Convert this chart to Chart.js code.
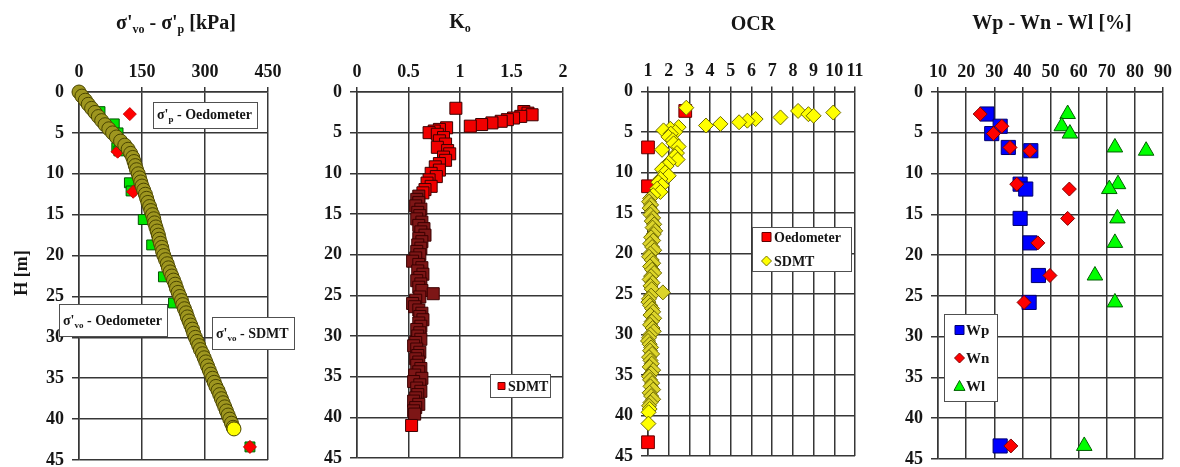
<!DOCTYPE html>
<html>
<head>
<meta charset="utf-8">
<style>
    html, body { margin: 0; padding: 0; background: #fff; overflow: hidden; }
    canvas { position: absolute; top: 0; }
</style>
</head>
<body>
    <canvas id="p1" width="300" height="480" style="left:0px"></canvas>
    <canvas id="p2" width="290" height="480" style="left:295px"></canvas>
    <canvas id="p3" width="290" height="480" style="left:585px"></canvas>
    <canvas id="p4" width="305" height="480" style="left:875px"></canvas>

    <script src="https://cdn.jsdelivr.net/npm/chart.js"></script>
    <script>
        // ---- data ----
        const depthTicks = [0, 5, 10, 15, 20, 25, 30, 35, 40, 45];
        const sigmaTicks = [0, 150, 300, 450];
        const koTicks = [0, 0.5, 1, 1.5, 2];
        const ocrTicks = [1, 2, 3, 4, 5, 6, 7, 8, 9, 10, 11];
        const wTicks = [10, 20, 30, 40, 50, 60, 70, 80, 90];

        // panel 1 : sigma'vo from SDMT
        const sdmtSigmaDepth = [0,0.5,1,1.5,2,2.5,3,3.5,4,4.5,5,5.5,6,6.5,7,7.5,8,8.5,9,9.5,10,10.5,11,11.5,12,12.5,13,13.5,14,14.5,15,
            15.5,16,16.5,17,17.5,18,18.5,19,19.5,20,20.5,21,21.5,22,22.5,23,23.5,24,24.5,25,25.5,26,26.5,27,27.5,28,28.5,29,29.5,30,
            30.5,31,31.5,32,32.5,33,33.5,34,34.5,35,35.5,36,36.5,37,37.5,38,38.5,39,39.5,40,40.5,41,41.2];
        const sdmtSigma = [0,7,15,22,30,38,46,54,62,71,80,89,99,109,117,123,128,131,134,137,141,144,147,150,154,158,161,164,168,171,175,
            178,180,183,186,189,191,194,197,199,202,206,210,213,217,221,225,229,232,236,240,244,247,251,255,258,262,266,270,273,277,
            281,285,289,294,298,302,306,310,314,318,322,326,331,335,339,343,347,351,355,359,363,367,369];
        // panel 1 : oedometer
        const oedSigmaVoDepth = [2.4, 3.9, 5.0, 6.8, 7.2, 11.1, 12.1, 15.6, 18.7, 22.6, 25.8, 43.4];
        const oedSigmaVo = [50, 84, 93, 90, 95, 120, 124, 153, 173, 201, 225, 407];
        const oedSigmaPDepth = [2.7, 7.3, 12.2, 43.4];
        const oedSigmaP = [121, 92, 129, 407];

        // panels 2 and 3 : SDMT depths (shared)
        const dmtDepth = [2.0,2.4,2.6,2.8,3.0,3.2,3.4,3.6,3.8,4.0,4.2,4.4,4.6,4.8,5.0,
            5.2,5.6,6.0,6.4,6.8,7.2,7.6,8.0,8.4,8.8,9.2,9.6,10.0,10.4,10.8,11.2,11.6,12.0,12.4,12.8,
            13.2,13.6,14.0,14.4,14.8,15.2,15.6,16.0,16.4,16.8,17.2,17.6,18.0,18.4,18.8,19.2,19.6,20.0,20.4,20.8,
            21.2,21.6,22.0,22.4,22.8,23.2,23.6,24.0,24.4,24.8,25.2,25.6,26.0,26.4,26.8,27.2,27.6,28.0,28.4,28.8,
            29.2,29.6,30.0,30.4,30.8,31.2,31.6,32.0,32.4,32.8,33.2,33.6,34.0,34.4,34.8,35.2,35.6,36.0,36.4,36.8,
            37.2,37.6,38.0,38.4,38.8,39.2,39.6,41.0];
        const koSdmt = [0.96,1.62,1.66,1.70,1.59,1.52,1.46,1.40,1.31,1.21,1.10,0.87,0.80,0.75,0.70,
            0.78,0.84,0.80,0.86,0.78,0.88,0.90,0.84,0.86,0.80,0.76,0.80,0.72,0.77,0.70,0.68,0.72,0.66,0.64,0.60,
            0.58,0.60,0.57,0.62,0.59,0.61,0.58,0.63,0.60,0.65,0.62,0.66,0.60,0.63,0.59,0.62,0.58,0.61,0.57,0.54,
            0.60,0.63,0.59,0.64,0.61,0.58,0.62,0.60,0.63,0.74,0.61,0.57,0.54,0.56,0.60,0.63,0.61,0.64,0.60,0.62,
            0.58,0.61,0.59,0.62,0.57,0.55,0.58,0.61,0.59,0.57,0.60,0.58,0.62,0.60,0.56,0.63,0.55,0.61,0.58,0.62,
            0.59,0.57,0.55,0.60,0.57,0.55,0.56,0.53];
        const ocrSdmt = [2.85,8.25,9.95,8.75,9.0,7.4,6.2,5.8,5.4,4.5,3.8,2.48,2.08,1.75,2.32,
            2.1,1.99,2.2,2.24,2.48,1.68,2.4,2.3,2.43,2.0,1.9,1.68,1.83,2.0,1.6,1.5,1.67,1.44,1.6,1.25,
            1.10,1.05,1.15,1.08,1.20,1.12,1.25,1.18,1.30,1.22,1.35,1.28,1.15,1.25,1.10,1.20,1.30,1.12,1.05,1.18,
            1.25,1.10,1.20,1.30,1.15,1.08,1.22,1.12,1.18,1.72,1.15,1.05,1.02,1.10,1.20,1.25,1.12,1.30,1.18,1.10,
            1.22,1.28,1.12,1.05,1.00,1.08,1.15,1.10,1.20,1.05,1.12,1.18,1.08,1.25,1.15,1.05,1.10,1.20,1.12,1.25,
            1.08,1.15,1.25,1.12,1.05,1.08,1.03,1.02];
        const ocrOedDepth = [2.4, 6.9, 11.7, 43.3];
        const ocrOed = [2.8, 1.0, 1.0, 1.0];

        // panel 4 : Atterberg limits and water content
        const sampleDepth = [2.7, 4.2, 5.1, 6.8, 7.2, 11.3, 11.9, 15.5, 18.5, 22.5, 25.8, 43.4];
        const wp = [27.4, 32.1, 29.1, 35.0, 43.0, 39.2, 41.2, 39.2, 42.7, 45.7, 42.4, 32.1];
        const wn = [25.0, 32.7, 29.7, 35.6, 42.7, 38.0, 56.7, 56.1, 45.5, 49.8, 40.6, 35.9];
        const wl = [56.1, 54.0, 56.9, 72.9, 84.0, 74.0, 70.9, 73.8, 72.9, 65.8, 72.9, 62.0];

        // ---- helpers ----
        const FONT = '"Liberation Serif", "Times New Roman", serif';
        const GRID = '#363636';
        const INK = '#161616';

        const pts = (xs, ys) => xs.map((x, i) => ({ x: x, y: ys[i] }));

        // parts: [text, isSubscript]
        function drawRich(ctx, parts, x, y, size, align) {
            const sub = Math.round(size * 0.62);
            let w = 0;
            parts.forEach(p => {
                ctx.font = 'bold ' + (p[1] ? sub : size) + 'px ' + FONT;
                w += ctx.measureText(p[0]).width;
            });
            let cx = align === 'center' ? x - w / 2 : x;
            ctx.save();
            ctx.textAlign = 'left';
            ctx.textBaseline = 'alphabetic';
            ctx.fillStyle = INK;
            parts.forEach(p => {
                ctx.font = 'bold ' + (p[1] ? sub : size) + 'px ' + FONT;
                ctx.fillText(p[0], cx, p[1] ? y + size * 0.22 : y);
                cx += ctx.measureText(p[0]).width;
            });
            ctx.restore();
        }

        function box(ctx, x, y, w, h) {
            ctx.save();
            ctx.fillStyle = '#fff';
            ctx.strokeStyle = '#505050';
            ctx.lineWidth = 1;
            ctx.fillRect(x, y, w, h);
            ctx.strokeRect(x, y, w, h);
            ctx.restore();
        }

        function mark(ctx, style, x, y, r, fill, stroke) {
            ctx.save();
            ctx.fillStyle = fill;
            ctx.strokeStyle = stroke;
            ctx.lineWidth = 1;
            ctx.beginPath();
            if (style === 'rect') {
                ctx.rect(x - r, y - r, 2 * r, 2 * r);
            } else if (style === 'rectRot') {
                ctx.moveTo(x, y - r); ctx.lineTo(x + r, y); ctx.lineTo(x, y + r); ctx.lineTo(x - r, y);
                ctx.closePath();
            } else {
                ctx.moveTo(x, y - r); ctx.lineTo(x + r, y + r * 0.8); ctx.lineTo(x - r, y + r * 0.8);
                ctx.closePath();
            }
            ctx.fill();
            ctx.stroke();
            ctx.restore();
        }

        // area = plot rectangle in page pixels
        function makePanel(id, left, area, xMin, xMax, xTicks, datasets, extras) {
            const cv = document.getElementById(id);
            const tickFont = { family: FONT, size: 18, weight: 'bold' };
            new Chart(cv, {
                type: 'scatter',
                data: { datasets: datasets },
                options: {
                    responsive: false,
                    maintainAspectRatio: false,
                    animation: false,
                    events: [],
                    layout: { padding: { left: 0, top: 0, right: cv.width - (area.right - left), bottom: cv.height - area.bottom } },
                    plugins: { legend: { display: false }, tooltip: { enabled: false } },
                    scales: {
                        x: {
                            type: 'linear', position: 'top', min: xMin, max: xMax,
                            afterFit: s => { s.height = area.top; },
                            afterBuildTicks: s => { s.ticks = xTicks.map(v => ({ value: v })); },
                            grid: { color: GRID, lineWidth: 1.5, drawTicks: true, tickLength: 5 },
                            border: { display: true, color: GRID, width: 1.5 },
                            ticks: { font: tickFont, color: INK, padding: 4, autoSkip: false, maxRotation: 0, minRotation: 0,
                                callback: v => String(v) }
                        },
                        y: {
                            type: 'linear', position: 'left', reverse: true, min: 0, max: 45,
                            afterFit: s => { s.width = area.left - left; },
                            afterBuildTicks: s => { s.ticks = depthTicks.map(v => ({ value: v })); },
                            grid: { color: GRID, lineWidth: 1.5, drawTicks: true, tickLength: 7 },
                            border: { display: true, color: GRID, width: 1.5 },
                            ticks: { font: tickFont, color: INK, padding: 8, autoSkip: false, callback: v => String(v) }
                        }
                    }
                },
                plugins: [{ id: 'extras', afterDraw: c => extras(c.ctx) }]
            });
        }

        // ---- panel 1 : sigma'vo - sigma'p ----
        makePanel('p1', 0, { left: 79, right: 268, top: 92, bottom: 460 }, 0, 450, sigmaTicks, [
            {
                data: pts(sdmtSigma, sdmtSigmaDepth), pointStyle: 'circle', pointRadius: 7, clip: false,
                pointBackgroundColor: c => c.dataIndex === sdmtSigma.length - 1 ? '#ffff00' : '#9e961f',
                pointBorderColor: '#4a4500', pointBorderWidth: 1
            },
            {
                data: pts(oedSigmaP, oedSigmaPDepth), pointStyle: 'rectRot', pointRadius: 6.5, clip: false,
                pointBackgroundColor: '#ff0000', pointBorderColor: '#cc0000', pointBorderWidth: 1
            },
            {
                data: pts(oedSigmaVo, oedSigmaVoDepth), pointStyle: 'rect', pointRadius: 7, clip: false,
                pointBackgroundColor: '#00e600', pointBorderColor: '#005500', pointBorderWidth: 1
            }
        ], ctx => {
            drawRich(ctx, [["σ'", 0], ["vo", 1], [" - σ'", 0], ["p", 1], [" [kPa]", 0]], 176, 29, 20, 'center');
            ctx.save();
            ctx.translate(21, 273);
            ctx.rotate(-Math.PI / 2);
            drawRich(ctx, [["H [m]", 0]], 0, 6, 18, 'center');
            ctx.restore();
            box(ctx, 153.5, 102.5, 104, 26);
            drawRich(ctx, [["σ'", 0], ["p", 1], [" - Oedometer", 0]], 157, 119, 14, 'left');
            box(ctx, 59.5, 304.5, 108, 32);
            drawRich(ctx, [["σ'", 0], ["vo", 1], [" - Oedometer", 0]], 63, 325, 14, 'left');
            box(ctx, 212.5, 317.5, 82, 32);
            drawRich(ctx, [["σ'", 0], ["vo", 1], [" - SDMT", 0]], 216, 338, 14, 'left');
        });

        // ---- panel 2 : Ko ----
        makePanel('p2', 295, { left: 357, right: 563, top: 92, bottom: 458 }, 0, 2, koTicks, [
            {
                data: pts(koSdmt, dmtDepth), pointStyle: 'rect', pointRadius: 8.5, clip: false,
                pointBackgroundColor: c => (c.raw.y >= 12.6 && c.dataIndex !== koSdmt.length - 1) ? '#7d1616' : '#f00000',
                pointBorderColor: '#3a0000', pointBorderWidth: 1
            }
        ], ctx => {
            drawRich(ctx, [["K", 0], ["o", 1]], 165, 28, 20, 'center');
            box(ctx, 195.5, 374.5, 60, 23);
            mark(ctx, 'rect', 206.5, 386, 3.5, '#ff0000', '#600000');
            drawRich(ctx, [["SDMT", 0]], 213, 391, 14, 'left');
        });

        // ---- panel 3 : OCR ----
        makePanel('p3', 585, { left: 648, right: 855, top: 91.5, bottom: 456 }, 1, 11, ocrTicks, [
            {
                data: pts(ocrSdmt, dmtDepth), pointStyle: 'rectRot', pointRadius: 7.5, clip: false,
                pointBackgroundColor: c => c.raw.y >= 13 && c.raw.y < 39 ? '#dcd42a' : '#ffff00',
                pointBorderColor: '#6e6a00', pointBorderWidth: 1
            },
            {
                data: pts(ocrOed, ocrOedDepth), pointStyle: 'rect', pointRadius: 9, clip: false,
                pointBackgroundColor: '#ff0000', pointBorderColor: '#600000', pointBorderWidth: 1
            }
        ], ctx => {
            drawRich(ctx, [["OCR", 0]], 168, 30, 20, 'center');
            box(ctx, 167.5, 227.5, 99, 44);
            mark(ctx, 'rect', 181.5, 237, 4.5, '#ff0000', '#600000');
            drawRich(ctx, [["Oedometer", 0]], 189, 242, 14, 'left');
            mark(ctx, 'rectRot', 181.5, 261, 5, '#ffff00', '#7a7600');
            drawRich(ctx, [["SDMT", 0]], 189, 266, 14, 'left');
        });

        // ---- panel 4 : Wp - Wn - Wl ----
        makePanel('p4', 875, { left: 938, right: 1163, top: 92, bottom: 459 }, 10, 90, wTicks, [
            {
                data: pts(wn, sampleDepth), pointStyle: 'rectRot', pointRadius: 7, clip: false,
                pointBackgroundColor: '#ff0000', pointBorderColor: '#800000', pointBorderWidth: 1
            },
            {
                data: pts(wp, sampleDepth), pointStyle: 'rect', pointRadius: 10, clip: false,
                pointBackgroundColor: '#0000ff', pointBorderColor: '#000070', pointBorderWidth: 1
            },
            {
                data: pts(wl, sampleDepth), pointStyle: 'triangle', pointRadius: 9, clip: false,
                pointBackgroundColor: '#00ff00', pointBorderColor: '#006000', pointBorderWidth: 1
            }
        ], ctx => {
            drawRich(ctx, [["Wp - Wn - Wl [%]", 0]], 177, 29, 20, 'center');
            box(ctx, 69.5, 314.5, 53, 87);
            mark(ctx, 'rect', 84.5, 330, 4.5, '#0000ff', '#000070');
            drawRich(ctx, [["Wp", 0]], 91, 335, 15, 'left');
            mark(ctx, 'rectRot', 84.5, 358, 5, '#ff0000', '#800000');
            drawRich(ctx, [["Wn", 0]], 91, 363, 15, 'left');
            mark(ctx, 'tri', 84.5, 386, 5.5, '#00ff00', '#006000');
            drawRich(ctx, [["Wl", 0]], 91, 391, 15, 'left');
        });
    </script>
</body>
</html>
